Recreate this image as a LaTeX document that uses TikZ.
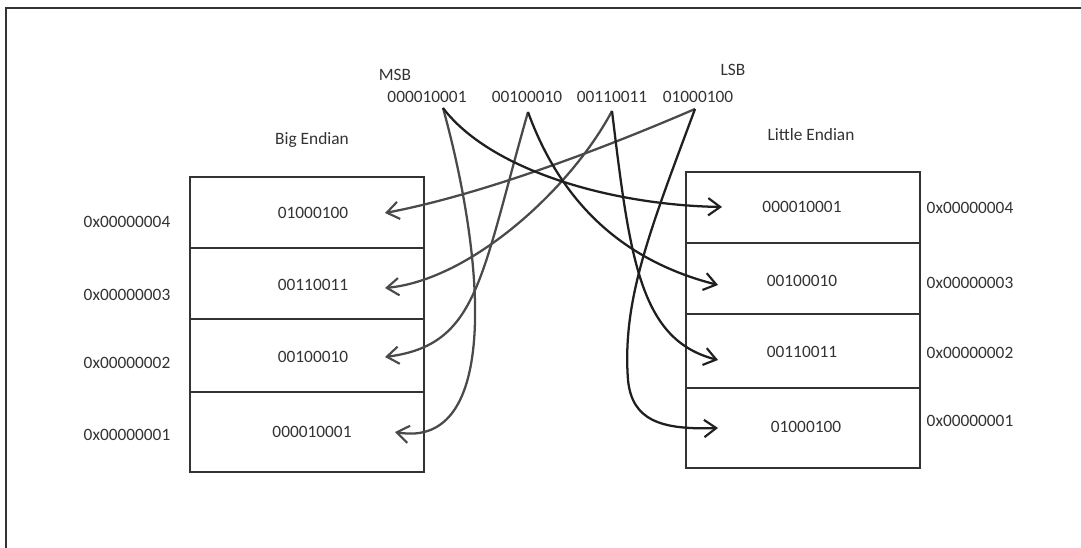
\documentclass[tikz,border=0pt]{standalone}
\usepackage{fontspec}
\setmainfont{Carlito}
\usetikzlibrary{arrows.meta}
\definecolor{ink}{HTML}{333333}
\definecolor{wiredark}{HTML}{1F1F1F}
\definecolor{wiregray}{HTML}{4A4A4A}
\definecolor{framecol}{HTML}{333333}
\begin{document}
\begin{tikzpicture}[x=0.75pt,y=-0.75pt,
  txt/.style={text=ink,font=\fontsize{13}{15}\selectfont,inner sep=0pt},
  cell/.style={draw=ink,line width=1.1pt,minimum width=175.5pt,inner sep=0pt,outer sep=0pt},
  wire/.style={line width=1.7pt,-{Straight Barb[length=9pt,width=13pt,line width=1.6pt]}},
  toright/.style={wire,draw=wiredark},
  toleft/.style={wire,draw=wiregray}]
\useasboundingbox[fill=white] (0,0) rectangle (1081,548);
% outer frame (top and left edges)
\draw[framecol,line width=1.5pt] (6,548) -- (6,8) -- (1081,8);

% big endian memory cells
\node[cell,minimum height=53.25pt] (L4) at (307,212.5) {};
\node[cell,minimum height=53.25pt] (L3) at (307,283.5) {};
\node[cell,minimum height=54.75pt] (L2) at (307,355.5) {};
\node[cell,minimum height=60pt]    (L1) at (307,432) {};
% little endian memory cells
\node[cell,minimum height=53.25pt] (R4) at (803,207.5) {};
\node[cell,minimum height=53.25pt] (R3) at (803,278.5) {};
\node[cell,minimum height=55.5pt]  (R2) at (803,351) {};
\node[cell,minimum height=60pt]    (R1) at (803,428) {};

% titles
\node[txt] (bigt) at (312,140) {Big Endian};
\node[txt] (litt) at (811,135) {Little Endian};

% cell contents
\node[txt] (lv4) at (313,213) {01000100};
\node[txt] (lv3) at (313,285) {00110011};
\node[txt] (lv2) at (313,357) {00100010};
\node[txt] (lv1) at (312,432) {000010001};
\node[txt] (rv4) at (802,207) {000010001};
\node[txt] (rv3) at (802,281) {00100010};
\node[txt] (rv2) at (802,352) {00110011};
\node[txt] (rv1) at (806,427) {01000100};

% addresses
\node[txt] (la4) at (127,222) {0x00000004};
\node[txt] (la3) at (127,295) {0x00000003};
\node[txt] (la2) at (127,363) {0x00000002};
\node[txt] (la1) at (127,435) {0x00000001};
\node[txt] (ra4) at (970,208) {0x00000004};
\node[txt] (ra3) at (970,283) {0x00000003};
\node[txt] (ra2) at (970,353) {0x00000002};
\node[txt] (ra1) at (970,421) {0x00000001};

% the 32-bit value, most significant byte first
\node[txt] (msb) at (395,75) {MSB};
\node[txt] (lsb) at (733,70) {LSB};
\node[txt] (b1) at (427,97) {000010001};
\node[txt] (b2) at (527,97) {00100010};
\node[txt] (b3) at (612,97) {00110011};
\node[txt] (b4) at (698,97) {01000100};

% wire ends
\coordinate (s1) at (443,108);
\coordinate (s2) at (528,112);
\coordinate (s3) at (612,111);
\coordinate (s4) at (695,109);
\coordinate (tl4) at (385,213);
\coordinate (tl3) at (385,288);
\coordinate (tl2) at (385,357);
\coordinate (tl1) at (395,432);
\coordinate (tr4) at (722,207);
\coordinate (tr3) at (718,285);
\coordinate (tr2) at (718,360);
\coordinate (tr1) at (718,428);

% big endian: MSB at the lowest address
\draw[toleft] (s1) .. controls (485,260) and (500,450) .. (tl1);
\draw[toleft] (s2) .. controls (480,280) and (478,345) .. (tl2);
\draw[toleft] (s3) .. controls (570,190) and (470,280) .. (tl3);
\draw[toleft] (s4) .. controls (600,150) and (480,195) .. (tl4);
% little endian: LSB at the lowest address
\draw[toright] (s1) .. controls (490,170) and (610,205) .. (tr4);
\draw[toright] (s2) .. controls (560,200) and (620,260) .. (tr3);
\draw[toright] (s3) .. controls (630,260) and (640,340) .. (tr2);
\draw[toright] (s4) .. controls (650,230) and (622,300) .. (628,380)
                    .. controls (632,420) and (660,430) .. (tr1);
\end{tikzpicture}
\end{document}
